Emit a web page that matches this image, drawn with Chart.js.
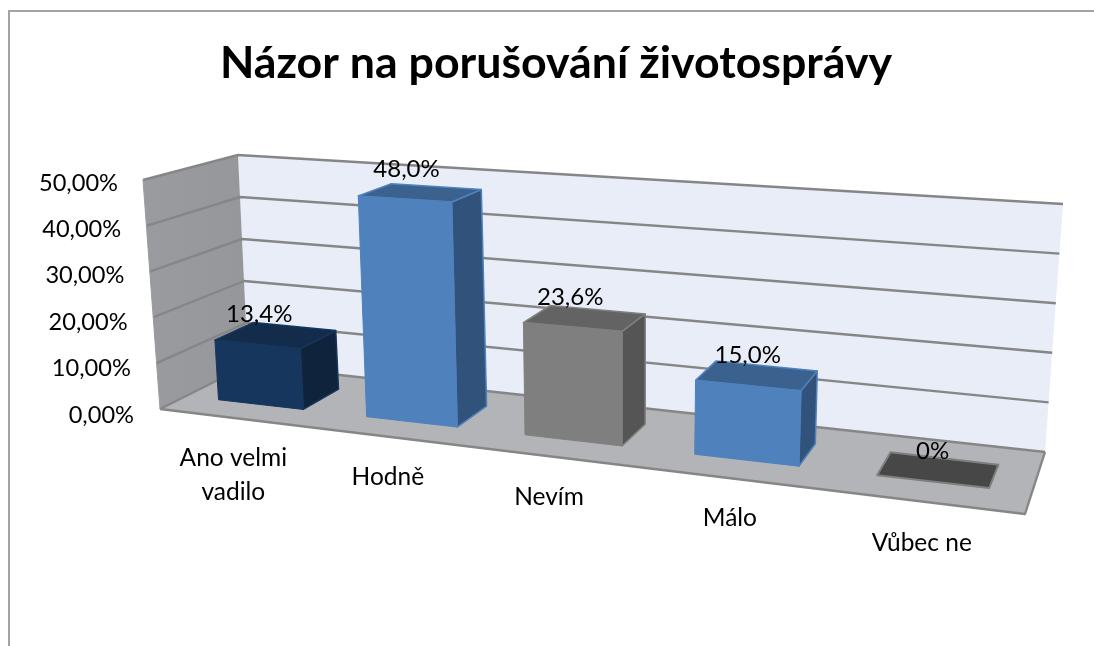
<!DOCTYPE html>
<html lang="cs">
<head>
<meta charset="utf-8">
<style>html,body{margin:0;padding:0;background:#fff}canvas{display:block}</style>
<script src="https://cdn.jsdelivr.net/npm/chart.js@4"></script>
</head>
<body>
<canvas id="c" width="1094" height="646"></canvas>
<script>
const chartTitle = 'Názor na porušování životosprávy';
const categories = [['Ano velmi','vadilo'],'Hodně','Nevím','Málo','Vůbec ne'];
const values = [13.4, 48.0, 23.6, 15.0, 0];
const valueLabels = ['13,4%','48,0%','23,6%','15,0%','0%'];
const yTickLabels = ['0,00%','10,00%','20,00%','30,00%','40,00%','50,00%'];
const frontColors = ['#17365d','#4f81bd','#7f7f7f','#4f81bd','#404040'];
const topColors   = ['#132c4c','#3b628f','#636363','#3b628f','#474747'];
const sideColors  = ['#0f233c','#31527a','#555555','#31527a','#333333'];
const edgeColors  = ['#17365d','#4f81bd','#7f7f7f','#4f81bd','#7f7f7f'];

const FONT = 'Lato, Carlito, sans-serif';
const VP = {x:1231, y:-126};
const DEPTH = 0.038;
// 3D projection of the front plane of the bars
function project(u, v){
  const w = 1 - 0.1608*u;
  const xb = (676.6*u + 188.65)/w;
  const h = 221*v/w;
  const yb = (17.25*u + 396.3)/w;
  return {x: xb + (xb-620)*0.00015*h, y: yb - h};
}
function back(p){ return {x:p.x+(VP.x-p.x)*DEPTH, y:p.y+(VP.y-p.y)*DEPTH}; }
function poly(ctx, pts, fill, stroke, lw){
  ctx.beginPath();
  pts.forEach((p,i)=> i?ctx.lineTo(p.x,p.y):ctx.moveTo(p.x,p.y));
  ctx.closePath();
  if(fill){ctx.fillStyle=fill;ctx.fill();}
  if(stroke){ctx.strokeStyle=stroke;ctx.lineWidth=lw||1;ctx.lineJoin='round';ctx.stroke();}
}
function mix(a,b,t){return {x:a.x+(b.x-a.x)*t,y:a.y+(b.y-a.y)*t};}
function line(ctx,pts,color,lw){
  ctx.beginPath();pts.forEach((p,i)=> i?ctx.lineTo(p.x,p.y):ctx.moveTo(p.x,p.y));
  ctx.strokeStyle=color;ctx.lineWidth=lw;ctx.lineJoin='round';ctx.stroke();
}
const room = {
  frontTop:{x:143,y:180}, frontBot:{x:160,y:409},
  backTL:{x:238,y:155}, backBL:{x:248,y:365},
  backTR:{x:1063,y:204}, backBR:{x:1045,y:452},
  floorFR:{x:1025,y:514}
};
const scene3d = {
  id:'scene3d',
  beforeDraw(chart){
    const ctx=chart.ctx;ctx.save();
    ctx.beginPath();ctx.moveTo(9,646);ctx.lineTo(9,11);ctx.lineTo(1094,11);
    ctx.strokeStyle='#a3a3a3';ctx.lineWidth=2;ctx.stroke();ctx.restore();
  },
  beforeDatasetsDraw(chart){
    const ctx=chart.ctx, r=room, yS=chart.scales.y;
    ctx.save();
    poly(ctx,[r.backTL,r.backTR,r.backBR,r.backBL],'#e8edf7');
    const lg=ctx.createLinearGradient(r.frontTop.x,0,r.backBL.x,0);
    lg.addColorStop(0,'#9a9b9e');lg.addColorStop(1,'#96979a');
    poly(ctx,[r.frontTop,r.backTL,r.backBL,r.frontBot],lg);
    poly(ctx,[r.frontBot,r.backBL,r.backBR,r.floorFR],'#b2b4b7');
    yS.ticks.forEach(t=>{
      const f=(yS.bottom-yS.getPixelForValue(t.value))/(yS.bottom-yS.top);
      const a=mix(r.frontBot,r.frontTop,f), b=mix(r.backBL,r.backTL,f), c=mix(r.backBR,r.backTR,f);
      line(ctx,[a,b,c],'#868686',2.4);
    });
    line(ctx,[r.frontBot,r.floorFR,r.backBR],'#868686',2.4);
    line(ctx,[r.frontTop,r.frontBot],'#9a9b9e',1);
    // value axis labels
    ctx.fillStyle='#000';ctx.font='23.6px '+FONT;ctx.textAlign='right';ctx.textBaseline='middle';
    yS.ticks.forEach(t=>{
      const f=(yS.bottom-yS.getPixelForValue(t.value))/(yS.bottom-yS.top);
      ctx.fillText(t.label,134-16*f,415-232*f);
    });
    // category labels
    const xS=chart.scales.x, bandL=chart.chartArea.left, bandW=chart.chartArea.width;
    const catNudgeX=[0,0,-4,0,2], catNudgeY=[0,0,0,0,2];
    ctx.textAlign='center';ctx.font='24.5px '+FONT;
    xS.ticks.forEach((t,i)=>{
      const u=(xS.getPixelForTick(i)-bandL)/bandW, p=project(u,0);
      const lines=Array.isArray(t.label)?t.label:[t.label];
      lines.forEach((s,k)=>ctx.fillText(s,p.x-29+18*u+catNudgeX[i],p.y+53+7*u+k*34+catNudgeY[i]));
    });
    ctx.restore();
  },
  beforeDatasetDraw(chart,args){
    const ctx=chart.ctx, a=chart.chartArea, yS=chart.scales.y;
    const U=x=>(x-a.left)/a.width, V=y=>(yS.bottom-y)/(yS.bottom-yS.top);
    ctx.save();
    args.meta.data.forEach((el,i)=>{
      const {x,y,base,width}=el.getProps(['x','y','base','width'],true);
      const uL=U(x-width/2), uR=U(x+width/2), vT=V(y), vB=V(base);
      const BL=project(uL,vB), BR=project(uR,vB), TL=project(uL,vT), TR=project(uR,vT);
      const e=edgeColors[i];
      if(vT>vB){
        poly(ctx,[BR,TR,back(TR),back(BR)],sideColors[i],e,1.5);
        poly(ctx,[TL,TR,back(TR),back(TL)],topColors[i],e,1.5);
        poly(ctx,[TL,TR,BR,BL],frontColors[i],e,1);
      } else {
        poly(ctx,[TL,TR,back(TR),back(TL)],topColors[i],e,2);
      }
    });
    ctx.restore();
    return false;
  },
  afterDatasetsDraw(chart){
    const ctx=chart.ctx, a=chart.chartArea, yS=chart.scales.y;
    const nudge=[2,2,-2,0,0];
    ctx.save();ctx.fillStyle='#000';ctx.font='24px '+FONT;ctx.textAlign='center';ctx.textBaseline='middle';
    chart.getDatasetMeta(0).data.forEach((el,i)=>{
      const u=(el.x-a.left)/a.width, v=(yS.bottom-el.y)/(yS.bottom-yS.top);
      const p=project(u,v);
      ctx.fillText(valueLabels[i],p.x+nudge[i],p.y-30);
    });
    ctx.restore();
  }
};
new Chart(document.getElementById('c'),{
  type:'bar',
  data:{labels:categories,datasets:[{label:'Názor',data:values,backgroundColor:frontColors,
    categoryPercentage:1,barPercentage:0.58}]},
  options:{
    responsive:false,animation:false,
    layout:{padding:{left:18,top:29,right:0,bottom:10}},
    plugins:{
      legend:{display:false},tooltip:{enabled:false},
      title:{display:true,text:chartTitle,color:'#000',padding:{top:8,bottom:10},
        font:{family:FONT,size:44.7,weight:'bold'}}
    },
    scales:{
      x:{display:false,offset:true},
      y:{display:false,min:0,max:50,ticks:{stepSize:10,callback:(v)=>yTickLabels[v/10]}}
    }
  },
  plugins:[scene3d]
});
</script>
</body>
</html>
